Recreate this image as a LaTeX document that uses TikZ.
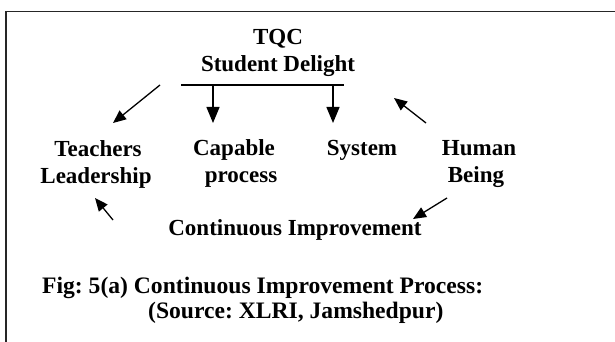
\documentclass[tikz,border=0pt]{standalone}
\usepackage{fontspec}
\setmainfont{Liberation Serif}
\usetikzlibrary{arrows.meta}
\frenchspacing
\tikzset{
  lbl/.style={font=\fontsize{23}{27}\selectfont\bfseries, inner sep=0pt, anchor=base},
  caplbl/.style={font=\fontsize{23.6}{27}\selectfont\bfseries, inner sep=0pt, anchor=base west},
  bigarr/.style={line width=1.3pt, -{Triangle[length=16pt,width=13pt]}},
  smallarr/.style={line width=1.3pt, -{Triangle[length=13pt,width=11pt]}},
  frame/.style={line width=1.8pt, black!85}
}
\begin{document}
\begin{tikzpicture}[x=1pt,y=-1pt]
\useasboundingbox (0,0) rectangle (615,342);
\draw[frame] (6,360) -- (6,11.5) -- (630,11.5);
% texts
\node[lbl] (tqc) at (278,45) {TQC};
\node[lbl] (sd) at (278,72) {Student Delight};
\node[lbl] (teach) at (98,156) {Teachers};
\node[lbl] (lead) at (96,183) {Leadership};
\node[lbl] (cap) at (234,155) {Capable};
\node[lbl] (proc) at (241,182) {process};
\node[lbl] (sys) at (362,155) {System};
\node[lbl] (hum) at (479,155) {Human};
\node[lbl] (being) at (476,182) {Being};
\node[lbl] (ci) at (295,235) {Continuous Improvement};
\node[caplbl] (fig) at (42,293) {Fig: 5(a) Continuous Improvement Process:};
\node[caplbl] (src) at (148,318) {(Source: XLRI, Jamshedpur)};
% connector coordinates
\coordinate (hl) at (181,85);
\coordinate (hr) at (344,85);
\coordinate (d1s) at (213,85);
\coordinate (d1e) at (213,123);
\coordinate (d2s) at (333,85);
\coordinate (d2e) at (333,123);
\coordinate (ulS) at (160,85);
\coordinate (ulE) at (113,123);
\coordinate (urS) at (426,123);
\coordinate (urE) at (394,98);
\coordinate (llS) at (113,220);
\coordinate (llE) at (95,198);
\coordinate (lrS) at (447,198);
\coordinate (lrE) at (413,219);
% connectors
\draw[line width=1.5pt] (hl) -- (hr);
\draw[bigarr] (d1s) -- (d1e);
\draw[bigarr] (d2s) -- (d2e);
\draw[smallarr] (ulS) -- (ulE);
\draw[smallarr] (urS) -- (urE);
\draw[smallarr] (llS) -- (llE);
\draw[smallarr] (lrS) -- (lrE);
\end{tikzpicture}
\end{document}
